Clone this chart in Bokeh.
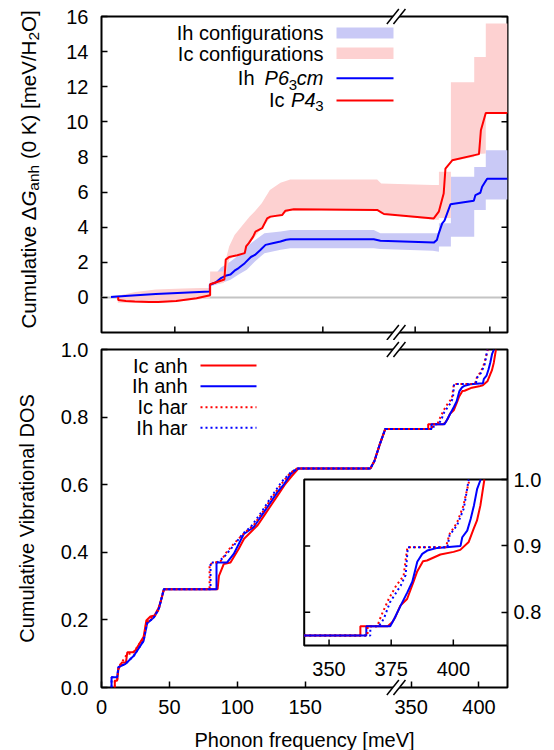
import math
from bokeh.plotting import figure
from bokeh.layouts import column
from bokeh.models import FixedTicker, LinearAxis, Range1d, Span, PrintfTickFormatter
from bokeh.embed import file_html
from bokeh.resources import INLINE
from bokeh.core.properties import value

# ---------------- data (x in meV) ----------------
# top panel: cumulative anharmonic free energy difference
ih_line_x = [7, 20, 40, 60, 79.8, 79.8, 84, 87.6, 92, 95, 98, 101, 105.5, 110, 113, 117, 120.8, 126, 131.8,
             136, 139, 200.5, 205.4, 366.7, 369, 370.4, 372.9, 374.6, 379, 396.2, 397.4, 401, 402.3, 406, 421]
ih_line_y = [0.02, 0.1, 0.2, 0.27, 0.34, 0.72, 0.85, 1.08, 1.25, 1.3, 1.52, 1.67, 1.95, 2.3, 2.42, 2.7, 2.99,
             3.08, 3.18, 3.28, 3.31, 3.31, 3.23, 3.12, 3.27, 3.65, 4.22, 4.37, 5.3, 5.5, 5.83, 5.96, 6.3, 6.76, 6.76]

ic_line_x = [12.3, 12.3, 18, 24.5, 35, 41.7, 55, 70, 80, 80, 84, 90.5, 91.5, 94, 100, 105.5, 106.5, 108.5,
             111.7, 113.4, 118.3, 122, 124.4, 133, 135.5, 141.6, 203, 208, 366.7, 370.4, 374, 375.3, 380.3,
             400, 401.4, 405, 421]
ic_line_y = [0.02, -0.15, -0.2, -0.23, -0.26, -0.26, -0.2, -0.05, 0.12, 0.75, 0.85, 1.02, 2.15, 2.3, 2.4,
             2.52, 2.9, 3.09, 3.46, 3.75, 3.94, 4.5, 4.6, 4.69, 4.94, 5.02, 4.98, 4.75, 4.5, 4.88, 5.92, 7.34,
             7.81, 8.16, 9.52, 10.5, 10.5]

ih_band_x = [7, 40, 79.8, 79.8, 88, 95, 101, 107, 113, 120, 132, 139, 200.5, 205.4, 366, 370.5, 370.5, 379.3,
             379.3, 396.5, 396.5, 405, 405, 421]
ih_band_hi = [0.1, 0.28, 0.45, 0.95, 1.7, 2.05, 2.4, 2.9, 3.25, 3.65, 3.75, 3.84, 3.84, 3.65, 3.65, 3.65, 4.22,
              4.22, 6.87, 6.87, 7.43, 7.43, 8.38, 8.38]
ih_band_lo = [-0.05, 0.1, 0.25, 0.62, 0.8, 1.0, 1.3, 1.57, 2.04, 2.52, 2.71, 2.8, 2.8, 2.75, 2.65, 2.6, 2.9,
              2.9, 3.46, 3.46, 4.98, 4.98, 5.58, 5.58]

ic_band_x = [12, 25, 40, 60, 80, 80, 90, 91, 94, 98, 104, 109, 113, 118, 124, 131.8, 139, 203, 206, 366,
             370.5, 370.5, 379.3, 379.3, 396.5, 396.5, 405, 405, 421]
ic_band_hi = [0.1, 0.3, 0.45, 0.5, 0.55, 1.48, 1.48, 2.0, 2.9, 3.56, 4.13, 4.6, 4.9, 5.36, 6.11, 6.53, 6.72,
              6.72, 6.49, 6.4, 6.4, 7.15, 7.15, 12.26, 12.26, 13.7, 13.7, 15.6, 15.6]
ic_band_lo = [-0.3, -0.3, -0.32, -0.2, -0.03, 0.72, 0.82, 1.0, 2.14, 2.4, 2.52, 3.09, 3.46, 3.94, 4.5, 4.69,
              4.95, 4.95, 4.75, 4.42, 4.42, 4.52, 4.52, 7.75, 8.0, 8.16, 8.2, 10.5, 10.5]

top_xticks = [54, 108, 163, 353, 408]
top_yticks = [0, 2, 4, 6, 8, 10, 12, 14, 16]

# bottom panel: cumulative vibrational DOS
ic_anh_x = [9.8, 9.8, 11.5, 12.5, 15, 18, 19, 23, 25, 28, 31, 33, 36, 39, 42, 44, 46, 85.5, 86.5, 88, 90, 95,
            98, 101, 105, 110, 115, 120, 125, 130, 135, 140, 145, 198, 201, 205, 209, 362.6, 362.6, 373.6,
            375.4, 376.7, 378.7, 381.4, 384, 385.4, 387.8, 389.4, 394.8, 400.1, 402.8, 406.2, 408.2, 409.5,
            410.9, 412.5]
ic_anh_y = [0, 0.02, 0.02, 0.055, 0.074, 0.074, 0.104, 0.104, 0.11, 0.13, 0.15, 0.198, 0.21, 0.213, 0.235,
            0.26, 0.291, 0.291, 0.33, 0.345, 0.365, 0.37, 0.39, 0.41, 0.44, 0.46, 0.48, 0.51, 0.54, 0.57, 0.6,
            0.625, 0.648, 0.648, 0.67, 0.72, 0.765, 0.765, 0.779, 0.779, 0.785, 0.793, 0.81, 0.82, 0.846,
            0.861, 0.877, 0.878, 0.887, 0.891, 0.894, 0.906, 0.926, 0.938, 0.961, 1.0]

ih_anh_x = [7.4, 7.4, 11.5, 12.5, 17.7, 23.8, 31, 33.6, 38.5, 42.2, 45.9, 84.7, 84.7, 92.5, 97.4, 104.8,
            112, 119.5, 129.6, 134.5, 139.4, 144.3, 198, 201, 205, 209, 365, 365, 374.6, 376.2, 378.8, 381.5,
            383.5, 385.5, 387.5, 389.5, 393.6, 402.9, 403.6, 405.6, 407, 408.3, 409.6, 411]
ih_anh_y = [0, 0.03, 0.03, 0.06, 0.07, 0.094, 0.138, 0.19, 0.207, 0.232, 0.291, 0.291, 0.37, 0.37, 0.395,
            0.454, 0.474, 0.518, 0.578, 0.602, 0.632, 0.648, 0.648, 0.67, 0.72, 0.765, 0.765, 0.779, 0.779,
            0.79, 0.81, 0.83, 0.846, 0.876, 0.888, 0.893, 0.897, 0.9, 0.913, 0.923, 0.941, 0.961, 0.986, 1.0]

ic_har_x = [9.8, 9.8, 11.5, 12.5, 15, 19, 23, 28, 31, 33, 36, 39, 42, 44, 46, 79.6, 79.6, 84, 88, 92, 97.4,
            101, 106, 112, 118, 126, 133, 139, 144, 198, 201, 205, 209, 365.5, 365.5, 369.4, 371, 374, 377,
            380, 381.5, 397, 398.5, 401.5, 404, 406.5]
ic_har_y = [0, 0.02, 0.02, 0.06, 0.075, 0.1, 0.1, 0.13, 0.145, 0.19, 0.205, 0.21, 0.23, 0.26, 0.291, 0.291,
            0.365, 0.37, 0.375, 0.4, 0.425, 0.44, 0.46, 0.48, 0.515, 0.565, 0.605, 0.635, 0.648, 0.648, 0.67,
            0.72, 0.765, 0.765, 0.779, 0.779, 0.795, 0.82, 0.84, 0.855, 0.898, 0.898, 0.918, 0.935, 0.96, 1.0]

ih_har_x = [7.4, 7.4, 11.5, 12.5, 17.7, 23.8, 31, 33.6, 38.5, 42.2, 45.9, 80.3, 80.3, 85.2, 90, 97.4, 104,
            110, 118, 126, 133, 139, 144, 198, 201, 205, 209, 366.6, 366.6, 370, 372, 374.5, 378.8, 380.8,
            381.7, 397.6, 398.5, 401.5, 404.2, 406.2]
ih_har_y = [0, 0.03, 0.03, 0.06, 0.07, 0.094, 0.138, 0.19, 0.207, 0.232, 0.291, 0.291, 0.37, 0.37, 0.385,
            0.42, 0.455, 0.475, 0.52, 0.57, 0.61, 0.635, 0.648, 0.648, 0.67, 0.72, 0.765, 0.765, 0.779, 0.779,
            0.79, 0.815, 0.84, 0.856, 0.898, 0.898, 0.916, 0.931, 0.956, 1.0]

bot_xticks = [0, 50, 100, 150, 350, 400]
bot_yticks = [0, 0.2, 0.4, 0.6, 0.8, 1.0]
inset_xticks = [350, 375, 400]
inset_yticks = [0.8, 0.9, 1.0]
inset_xlim = (340, 421.8)
inset_ylim = (0.75, 1.0)

# ---------------- style / geometry ----------------
FONT = "Liberation Sans"
RED, BLUE = "#ff0000", "#0000ff"
RED_FILL, BLUE_FILL = "#fdd1d1", "#c9c9f6"
BREAK_LO, BREAK_HI = 217.0, 339.0
SHIFT = BREAK_HI - BREAK_LO
X_END = 421.0

LEFT, RIGHT, FRAME_W = 101, 47, 406
XR = (0.0, X_END - SHIFT)
PXX = FRAME_W / (XR[1] - XR[0])


def tx(xs):
    return [x if x <= BREAK_LO else x - SHIFT for x in xs]


def px2x(px):
    return XR[0] + (px - LEFT) / PXX


W = {' ': 278, '(': 333, ')': 333, '/': 278, '0': 556, '2': 556, '3': 556, '4': 556, '6': 556,
     'C': 722, 'D': 722, 'G': 778, 'H': 722, 'I': 278, 'K': 667, 'O': 778, 'P': 667, 'S': 667, 'V': 667,
     '[': 278, ']': 278, 'a': 556, 'b': 556, 'c': 500, 'e': 556, 'f': 278, 'g': 556, 'h': 556, 'i': 222,
     'l': 222, 'm': 833, 'n': 556, 'o': 556, 'q': 556, 'r': 333, 's': 500, 't': 278, 'u': 556, 'v': 500,
     'y': 500, '\u0394': 668}


def text_w(s, size):
    return sum(W.get(c, 556) for c in s) * size / 1000.0


def style_fig(p):
    p.grid.visible = False
    p.outline_line_color = "black"
    p.outline_line_width = 2
    p.background_fill_color = "white"
    p.border_fill_color = "white"
    for ax in p.axis:
        ax.axis_line_color = None
        ax.major_tick_in = 6
        ax.major_tick_out = 0
        ax.minor_tick_line_color = None
        ax.major_tick_line_color = "black"
        ax.major_tick_line_width = 1.5
        ax.major_label_text_font = FONT
        ax.major_label_text_font_size = "20px"
        ax.major_label_text_color = "black"
        ax.axis_label_text_font = FONT
        ax.axis_label_text_font_size = "20px"
        ax.axis_label_text_font_style = "normal"
        ax.axis_label_text_color = "black"


def put_text(p, x, y, s, size, align="left", style="normal", angle=0.0, baseline="middle", **kw):
    p.text(x=[x], y=[y], text=[s], text_font=value(FONT), text_font_size=f"{size}px",
           text_font_style=style, text_align=align, text_baseline=baseline, angle=angle,
           text_color="black", level="overlay", **kw)


def add_break(p, bx, by, py2y):
    dx, dy, off = 6.0, 7.5, 3.3
    pts = [(bx - off - dx, by + dy), (bx - off + dx, by - dy), (bx + off + dx, by - dy), (bx + off - dx, by + dy)]
    p.patch([px2x(a) for a, b in pts], [py2y(b) for a, b in pts], fill_color="white", line_color=None,
            level="overlay")
    for c in (bx - off, bx + off):
        p.segment(x0=[px2x(c - dx)], y0=[py2y(by + dy)], x1=[px2x(c + dx)], y1=[py2y(by - dy)],
                  line_color="black", line_width=1.5, level="overlay")


BREAK_PX = LEFT + (BREAK_LO - XR[0]) * PXX

# ---------------- top panel ----------------
T_TOP, T_H = 16, 316
TY = (-2.0, 16.0)


def py2y_t(py):
    return TY[1] - (py - T_TOP) * (TY[1] - TY[0]) / T_H


p1 = figure(frame_width=FRAME_W, frame_height=T_H, x_range=Range1d(*XR), y_range=Range1d(*TY),
            output_backend="svg", toolbar_location=None, min_border_left=LEFT, min_border_right=RIGHT,
            min_border_top=T_TOP, min_border_bottom=8)
p1.xaxis.visible = False
p1.yaxis.ticker = FixedTicker(ticks=top_yticks)
style_fig(p1)
p1.yaxis.major_label_standoff = 13

p1.add_layout(Span(location=0, dimension="width", line_color="#c4c4c4", line_width=2, level="underlay"))
# inward ticks: bottom edge (unlabelled) and right edge (drawn below the bands)
p1.segment(x0=tx(top_xticks), y0=[TY[0]] * len(top_xticks), x1=tx(top_xticks),
           y1=[TY[0] + 6 * (TY[1] - TY[0]) / T_H] * len(top_xticks), line_color="black", line_width=1.5)
p1.segment(x0=[XR[1] - 6 / PXX] * len(top_yticks), y0=top_yticks, x1=[XR[1]] * len(top_yticks), y1=top_yticks,
           line_color="black", line_width=1.5)

p1.varea(x=tx(ih_band_x), y1=ih_band_lo, y2=ih_band_hi, fill_color=BLUE_FILL)
p1.varea(x=tx(ic_band_x), y1=ic_band_lo, y2=ic_band_hi, fill_color=RED_FILL)
p1.line(tx(ih_line_x), ih_line_y, line_color=BLUE, line_width=2)
p1.line(tx(ic_line_x), ic_line_y, line_color=RED, line_width=2)

# legend (labels left of keys)
SW0, SW1 = px2x(336), px2x(393)
put_text(p1, px2x(323), py2y_t(32.5), "Ih configurations", 20, align="right")
p1.quad(left=[SW0], right=[SW1], bottom=[py2y_t(38)], top=[py2y_t(27)], fill_color=BLUE_FILL,
        line_color=None, level="overlay")
put_text(p1, px2x(323), py2y_t(53), "Ic configurations", 20, align="right")
p1.quad(left=[SW0], right=[SW1], bottom=[py2y_t(58.5)], top=[py2y_t(47)], fill_color=RED_FILL,
        line_color=None, level="overlay")
put_text(p1, px2x(323), py2y_t(77.5), "cm", 20, align="right", style="italic")
put_text(p1, px2x(296.5), py2y_t(84), "3", 15, align="right")
put_text(p1, px2x(288.5), py2y_t(77.5), "P6", 20, align="right", style="italic")
put_text(p1, px2x(254), py2y_t(77.5), "Ih", 20, align="right")
p1.segment(x0=[SW0], y0=[py2y_t(77.7)], x1=[SW1], y1=[py2y_t(77.7)], line_color=BLUE, line_width=2,
           level="overlay")
put_text(p1, px2x(323), py2y_t(105.5), "3", 15, align="right")
put_text(p1, px2x(315), py2y_t(99), "P4", 20, align="right", style="italic")
put_text(p1, px2x(284), py2y_t(99), "Ic", 20, align="right")
p1.segment(x0=[SW0], y0=[py2y_t(100)], x1=[SW1], y1=[py2y_t(100)], line_color=RED, line_width=2,
           level="overlay")

# rotated y label with subscripts (gap = explicit space width)
LS, SS = 20.5, 15.5
pieces = [("Cumulative", LS, "normal", 0, True), ("\u0394", LS, "normal", 0, False),
          ("G", LS, "italic", 0, False), ("anh", SS, "normal", 5, True),
          ("(0 K) [meV/H", LS, "normal", 0, False), ("2", SS, "normal", 5, False),
          ("O]", LS, "normal", 0, False)]
cur = 328.0
for s, size, st, off, gap in pieces:
    put_text(p1, px2x(28 + off), py2y_t(cur), s, size, style=st, angle=math.pi / 2)
    cur -= text_w(s, size) + (text_w(" ", LS) if gap else 0)

add_break(p1, BREAK_PX, T_TOP, py2y_t)
add_break(p1, BREAK_PX, T_TOP + T_H, py2y_t)

# ---------------- bottom panel ----------------
B_PAGE_TOP, B_TOP, B_H = 349, 9, 338
BY = (0.0, 1.0)


def py2y_b(py):
    return BY[1] - (py - B_PAGE_TOP) * (BY[1] - BY[0]) / B_H


p2 = figure(frame_width=FRAME_W, frame_height=B_H, x_range=Range1d(*XR), y_range=Range1d(*BY),
            output_backend="svg", toolbar_location=None, min_border_left=LEFT, min_border_right=RIGHT,
            min_border_top=B_TOP, min_border_bottom=63)
p2.xaxis.ticker = FixedTicker(ticks=tx(bot_xticks))
p2.xaxis.major_label_overrides = {t: str(v) for t, v in zip(tx(bot_xticks), bot_xticks)}
p2.yaxis.ticker = FixedTicker(ticks=bot_yticks)
p2.yaxis.formatter = PrintfTickFormatter(format="%.1f")
p2.xaxis.axis_label = "Phonon frequency [meV]"
p2.yaxis.axis_label = "Cumulative Vibrational DOS"

# inset coordinate system (placed inside the frame)
I_LEFT_PX, I_TOP_PX, I_BOT_PX = 303.7, 479.0, 645.0
ipx = (LEFT + FRAME_W - I_LEFT_PX) / (inset_xlim[1] - inset_xlim[0])
ipy = (I_BOT_PX - I_TOP_PX) / (inset_ylim[1] - inset_ylim[0])
p2.extra_x_ranges = {"ix": Range1d(inset_xlim[0] - (I_LEFT_PX - LEFT) / ipx, inset_xlim[1])}
p2.extra_y_ranges = {"iy": Range1d(inset_ylim[0] - (B_PAGE_TOP + B_H - I_BOT_PX) / ipy,
                                   inset_ylim[1] + (I_TOP_PX - B_PAGE_TOP) / ipy)}
rax = LinearAxis(y_range_name="iy", ticker=FixedTicker(ticks=inset_yticks),
                 formatter=PrintfTickFormatter(format="%.1f"))
p2.add_layout(rax, "right")
style_fig(p2)
p2.xaxis.major_label_standoff = 12
p2.xaxis.axis_label_standoff = 12
p2.yaxis.major_label_standoff = 13
p2.yaxis.axis_label_standoff = 20
rax.major_label_standoff = 6

curves = [(ic_anh_x, ic_anh_y, RED, None), (ih_anh_x, ih_anh_y, BLUE, None),
          (ic_har_x, ic_har_y, RED, "2 3"), (ih_har_x, ih_har_y, BLUE, "2 3")]
for xs, ys, col, dash in curves:
    kw = {} if dash is None else {"line_dash": dash}
    p2.line(tx(xs), ys, line_color=col, line_width=2, **kw)

# legend
labels = ["Ic anh", "Ih anh", "Ic har", "Ih har"]
for (xs, ys, col, dash), lab, py in zip(curves, labels, [365, 385.7, 406.7, 427.3]):
    put_text(p2, px2x(187), py2y_b(py), lab, 20, align="right")
    kw = {} if dash is None else {"line_dash": dash}
    p2.segment(x0=[px2x(200)], y0=[py2y_b(py)], x1=[px2x(256)], y1=[py2y_b(py)], line_color=col,
               line_width=2, level="overlay", **kw)

# inset
p2.quad(left=[inset_xlim[0]], right=[inset_xlim[1]], bottom=[inset_ylim[0]], top=[inset_ylim[1]],
        fill_color="white", line_color="black", line_width=2, x_range_name="ix", y_range_name="iy")
for xs, ys, col, dash in curves:
    first = next(i for i, x in enumerate(xs) if x >= inset_xlim[0])
    sx = [inset_xlim[0]] + list(xs[first:])
    sy = [ys[first]] + list(ys[first:])
    kw = {} if dash is None else {"line_dash": dash}
    p2.line(sx, sy, line_color=col, line_width=2, x_range_name="ix", y_range_name="iy", **kw)
tick_h = 6 / ipy
tick_w = 6 / ipx
p2.segment(x0=inset_xticks, y0=[inset_ylim[0]] * 3, x1=inset_xticks, y1=[inset_ylim[0] + tick_h] * 3,
           line_color="black", line_width=1.5, x_range_name="ix", y_range_name="iy")
p2.segment(x0=[inset_xlim[0]] * 2, y0=inset_yticks[:2], x1=[inset_xlim[0] + tick_w] * 2, y1=inset_yticks[:2],
           line_color="black", line_width=1.5, x_range_name="ix", y_range_name="iy")
p2.text(x=inset_xticks, y=[inset_ylim[0] - 23 / ipy] * 3, text=[str(v) for v in inset_xticks],
        text_font=value(FONT), text_font_size="20px", text_align="center", text_baseline="middle",
        text_color="black", x_range_name="ix", y_range_name="iy")

add_break(p2, BREAK_PX, B_PAGE_TOP, py2y_b)
add_break(p2, BREAK_PX, B_PAGE_TOP + B_H, py2y_b)

layout = column(p1, p2)
open("out.html", "w").write(file_html(layout, INLINE))
